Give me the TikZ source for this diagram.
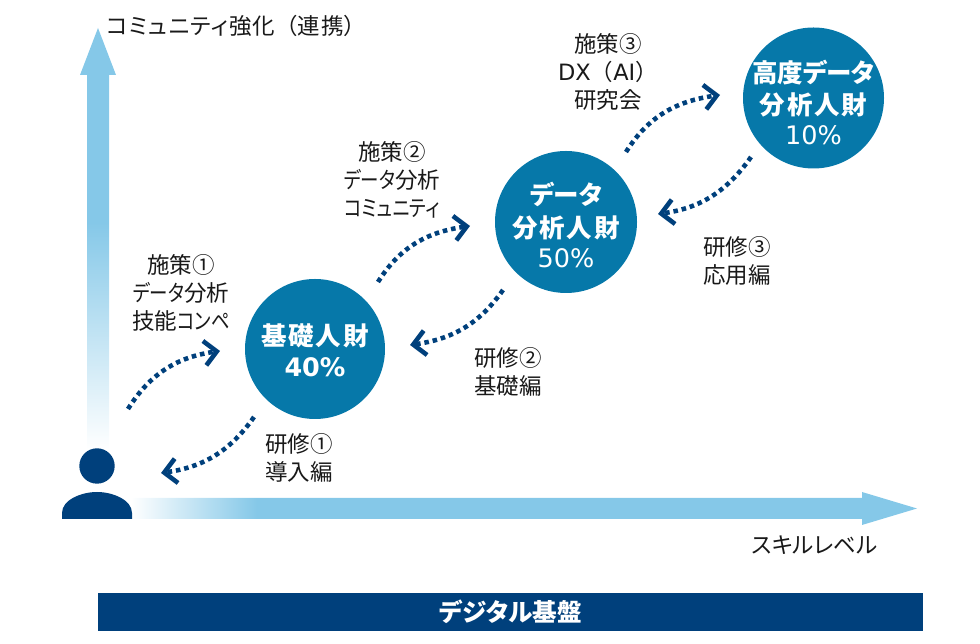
\documentclass[tikz,border=0pt]{standalone}
\usepackage{fontspec}
\setmainfont{DejaVu Sans}
\newfontfamily\jpfont[RawFeature=+palt]{Noto Sans CJK JP}
\newfontfamily\jpfull{Noto Sans CJK JP}
\newfontfamily\jpnarrow[RawFeature=+palt,FakeStretch=0.82]{Noto Sans CJK JP}
\newfontfamily\jpwide[RawFeature=+palt,LetterSpace=7]{Noto Sans CJK JP}
\newfontfamily\jpaxis[RawFeature=+palt,LetterSpace=5]{Noto Sans CJK JP}
\usetikzlibrary{arrows.meta}
\definecolor{axisblue}{HTML}{85C8E8}
\definecolor{circblue}{HTML}{0678A9}
\definecolor{navy}{HTML}{00407C}
\pgfdeclareverticalshading{fadeup}{100bp}{color(0bp)=(white); color(25bp)=(white); color(52bp)=(axisblue); color(100bp)=(axisblue)}
\pgfdeclarehorizontalshading{faderight}{100bp}{color(0bp)=(white); color(25bp)=(white); color(33bp)=(axisblue); color(100bp)=(axisblue)}
\tikzset{
  circ/.style={circle,fill=circblue,text=white,align=center,inner sep=-12pt,font=\fontsize{14.5}{18.5}\selectfont},
  lab/.style={align=center,inner sep=0pt,text=black!90,font=\jpfont\fontsize{12.8}{15.9}\selectfont},
  dotarrow/.style={navy,line width=2.6pt,dash pattern=on 2.6pt off 2.2pt,
    -{Straight Barb[length=7pt,width=14pt,line width=2.6pt]}},
}
\begin{document}
\begin{tikzpicture}
\useasboundingbox (0,0) rectangle (19.6,12.88);
% axes
\shade[shading=fadeup] (1.74,3.88) -- (1.74,11.38) -- (1.60,11.38) -- (1.96,12.32) -- (2.32,11.38) -- (2.18,11.38) -- (2.18,3.88) -- cycle;
\shade[shading=faderight] (2.62,2.50) -- (17.24,2.50) -- (17.24,2.38) -- (18.34,2.71) -- (17.24,3.04) -- (17.24,2.92) -- (2.62,2.92) -- cycle;
\node[lab,anchor=west] (yaxis) at (2.12,12.36) {\jpaxis コミュニティ強化{\jpfull （}連携{\jpfull ）}};
\node[lab,anchor=east] (xaxis) at (17.56,1.98) {スキルレベル};
% person
\fill[navy] (1.94,3.56) circle (0.354);
\fill[navy] (1.24,2.50) -- (1.24,2.62) .. controls (1.24,2.88) and (1.62,3.04) .. (1.94,3.04) .. controls (2.26,3.04) and (2.64,2.88) .. (2.64,2.62) -- (2.64,2.50) -- cycle;
% circles
\node[circ,minimum size=2.80cm] (kiso) at (6.30,5.90) {\rule{0pt}{14pt}\jpwide\bfseries 基礎人財\\[-1pt]\bfseries 40\%};
\node[circ,minimum size=2.84cm] (data) at (11.32,8.44) {\rule{0pt}{16pt}\jpfont\bfseries データ\\\jpwide\bfseries 分析人財\\[-1.5pt]50\%};
\node[circ,minimum size=2.82cm] (kodo) at (16.27,10.92) {\rule{0pt}{18pt}\jpfont\bfseries 高度データ\\\jpwide\bfseries 分析人財\\[-1.5pt]10\%};
% labels
\node[lab] (s1) at (3.62,7.02) {施策①\\{\jpnarrow データ}分析\\技能{\jpnarrow コンペ}};
\node[lab] (s2) at (7.84,9.28) {施策②\\{\jpnarrow データ}分析\\{\jpnarrow コミュニティ}};
\node[lab] (s3) at (12.16,11.44) {施策③\\{\rmfamily DX}{\jpfull （}{\rmfamily AI}{\jpfull ）}\\研究会};
\node[lab] (k1) at (5.98,3.72) {研修①\\導入編};
\node[lab] (k2) at (10.16,5.44) {研修②\\基礎編};
\node[lab] (k3) at (14.74,7.66) {研修③\\応用編};
% connectors
\coordinate (a1) at (2.56,4.70);
\coordinate (a2) at (4.40,5.86);
\coordinate (b1) at (5.08,4.54);
\coordinate (b2) at (3.22,3.42);
\coordinate (c1) at (7.56,7.24);
\coordinate (c2) at (9.40,8.36);
\coordinate (d1) at (10.06,7.08);
\coordinate (d2) at (8.20,5.98);
\coordinate (e1) at (12.52,9.84);
\coordinate (e2) at (14.40,10.98);
\coordinate (f1) at (15.02,9.74);
\coordinate (f2) at (13.16,8.60);
\draw[dotarrow] (a1) to[out=58,in=188] (a2);
\draw[dotarrow] (b1) to[out=-125,in=8] (b2);
\draw[dotarrow] (c1) to[out=58,in=188] (c2);
\draw[dotarrow] (d1) to[out=-125,in=8] (d2);
\draw[dotarrow] (e1) to[out=58,in=188] (e2);
\draw[dotarrow] (f1) to[out=-125,in=8] (f2);
% base
\node[fill=navy,text=white,minimum width=16.5cm,minimum height=0.76cm,inner sep=0pt,font=\jpfont\bfseries\fontsize{14}{16}\selectfont] (kiban) at (10.21,0.64) {デジタル基盤};
\end{tikzpicture}
\end{document}
